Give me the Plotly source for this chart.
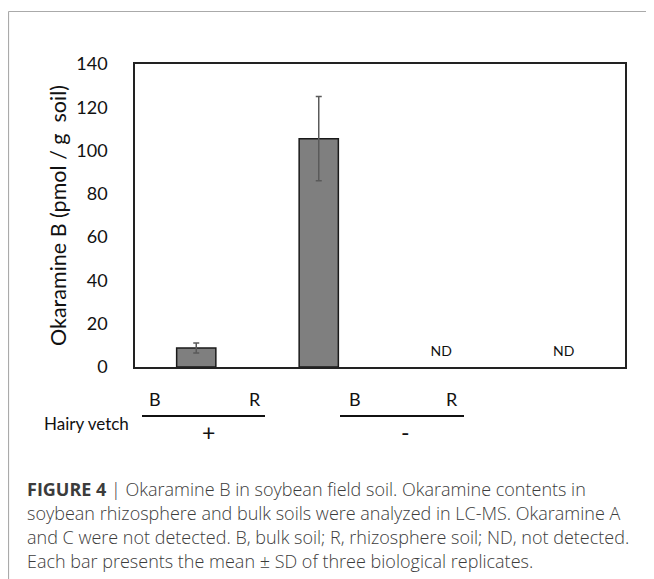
import plotly.graph_objects as go

categories = ["+B", "+R", "-B", "-R"]
means = [8.8, 105.5, None, None]
sds = [2.3, 19.5, None, None]
nd_labels = ["", "", "ND", "ND"]
nd_y = [6.5, 6.5, 6.5, 6.5]
sub_labels = ["B", "R", "B", "R"]
group_labels = ["+", "-"]
y_ticks = [0, 20, 40, 60, 80, 100, 120, 140]
caption = [
    "<b>FIGURE 4</b> | Okaramine B in soybean field soil. Okaramine contents in",
    "soybean rhizosphere and bulk soils were analyzed in LC-MS. Okaramine A",
    "and C were not detected. B, bulk soil; R, rhizosphere soil; ND, not detected.",
    "Each bar presents the mean \u00b1 SD of three biological replicates.",
]

# page body has an 8px margin; work in page pixels and offset
OFF = 8
W, H = 654 - OFF, 579 - OFF
L, R, T, B = 135 - OFF, 625 - OFF, 64 - OFF, 367 - OFF


def px(x):
    return (x - OFF - L) / (R - L)


def py(y):
    return (B - (y - OFF)) / (B - T)


CHART_FONT = "Lato"
CAP_FONT = "Open Sans"

fig = go.Figure()
fig.add_trace(go.Bar(
    x=categories, y=means,
    marker=dict(color="#7f7f7f", line=dict(color="#1a1a1a", width=1.5)),
    error_y=dict(type="data", array=sds, visible=True, color="#5a5a5a",
                 thickness=1.5, width=3),
    width=0.32, showlegend=False, hoverinfo="skip",
))
fig.add_trace(go.Scatter(
    x=categories, y=nd_y, mode="text", text=nd_labels,
    textfont=dict(family=CHART_FONT, size=14, color="#111"),
    showlegend=False, hoverinfo="skip",
))

fig.update_layout(
    width=W, height=H,
    margin=dict(l=L, r=W - R, t=T, b=H - B),
    paper_bgcolor="white", plot_bgcolor="white",
    font=dict(family=CHART_FONT, color="#111"),
    xaxis=dict(showticklabels=False, ticks="", showgrid=False, zeroline=False,
               showline=True, linecolor="#222", linewidth=1.5, mirror=True,
               range=[-0.5, 3.5]),
    yaxis=dict(range=[0, 140], tickvals=y_ticks, showgrid=False, zeroline=False,
               showline=True, linecolor="#222", linewidth=1.5, mirror=True,
               ticks="", tickfont=dict(family=CHART_FONT, size=18, color="#111"),
               ticklabelstandoff=22,
               title=dict(text="Okaramine B (pmol / g  soil)",
                          font=dict(family=CHART_FONT, size=21.5, color="#111"),
                          standoff=4)),
)

anns = []
sub_x = [155, 255, 355, 452]
for lab, xx in zip(sub_labels, sub_x):
    anns.append(dict(text=lab, x=px(xx), y=py(399), xref="paper", yref="paper",
                     showarrow=False, xanchor="center", yanchor="middle",
                     font=dict(family=CHART_FONT, size=18, color="#111")))
grp_x = [208, 405]
for lab, xx in zip(group_labels, grp_x):
    anns.append(dict(text=lab, x=px(xx), y=py(432), xref="paper", yref="paper",
                     showarrow=False, xanchor="center", yanchor="middle",
                     font=dict(family=CHART_FONT, size=23, color="#111")))
anns.append(dict(text="Hairy vetch", x=px(42), y=py(423), xref="paper", yref="paper",
                 showarrow=False, xanchor="left", yanchor="middle",
                 font=dict(family=CHART_FONT, size=17, color="#111")))
cap_y = [489, 513, 537, 561]
for line, yy in zip(caption, cap_y):
    anns.append(dict(text=line, x=px(25), y=py(yy), xref="paper", yref="paper",
                     showarrow=False, xanchor="left", yanchor="middle",
                     font=dict(family=CAP_FONT, size=18, color="#3c3c3c", weight=300)))
fig.update_layout(annotations=anns)

shapes = [
    dict(type="line", xref="paper", yref="paper", x0=px(142), x1=px(265),
         y0=py(416), y1=py(416), line=dict(color="#111", width=1.8)),
    dict(type="line", xref="paper", yref="paper", x0=px(340), x1=px(464),
         y0=py(416), y1=py(416), line=dict(color="#111", width=1.8)),
    dict(type="line", xref="paper", yref="paper", x0=px(8.5), x1=px(654),
         y0=py(11.5), y1=py(11.5), line=dict(color="#aaaaaa", width=1.2)),
    dict(type="line", xref="paper", yref="paper", x0=px(8.5), x1=px(8.5),
         y0=py(11.5), y1=py(579), line=dict(color="#aaaaaa", width=1.2)),
]
fig.update_layout(shapes=shapes)

fig.write_html("out.html")
